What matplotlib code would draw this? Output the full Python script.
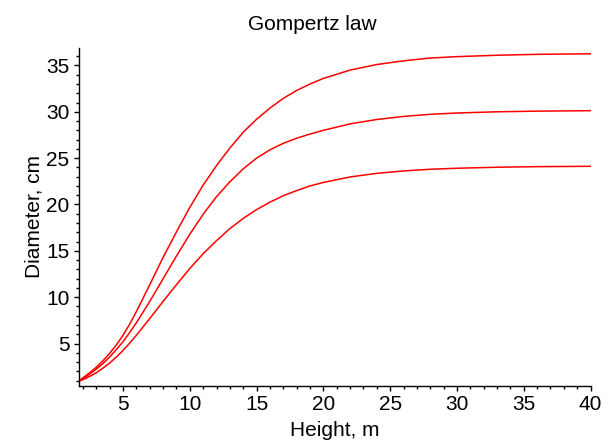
import numpy as np
import matplotlib
matplotlib.use("Agg")
import matplotlib.pyplot as plt
from matplotlib.ticker import MultipleLocator

# ---------------- DATA ----------------
height = [1.7, 2, 2.5, 3, 3.5, 4, 4.5, 5, 5.5, 6, 7, 8, 9, 10, 11, 12, 13,
          14, 15, 16, 17, 18, 19, 20, 22, 24, 26, 28, 30, 33, 36, 40]

diam_top = [1.0, 1.3, 1.85, 2.45, 3.15, 3.95, 4.85, 5.9, 7.1, 8.45, 11.35, 14.3,
            17.05, 19.7, 22.1, 24.2, 26.1, 27.8, 29.2, 30.4, 31.45, 32.3, 33.0,
            33.6, 34.5, 35.1, 35.5, 35.8, 35.95, 36.1, 36.2, 36.26]
diam_mid = [1.0, 1.2, 1.7, 2.25, 2.85, 3.55, 4.35, 5.2, 6.2, 7.25, 9.55, 12.0,
            14.45, 16.8, 18.95, 20.85, 22.45, 23.85, 25.0, 25.9, 26.6, 27.15,
            27.6, 28.0, 28.7, 29.17, 29.5, 29.73, 29.87, 30.0, 30.07, 30.12]
diam_low = [0.95, 1.1, 1.45, 1.85, 2.35, 2.9, 3.55, 4.25, 5.05, 5.9, 7.7, 9.55,
            11.35, 13.1, 14.7, 16.1, 17.4, 18.5, 19.45, 20.25, 20.95, 21.5,
            22.0, 22.38, 22.97, 23.36, 23.62, 23.8, 23.91, 24.02, 24.08, 24.12]

curves = [diam_top, diam_mid, diam_low]

# ---------------- PLOT ----------------
plt.rcParams['font.family'] = ['Liberation Sans', 'DejaVu Sans']

fig = plt.figure(figsize=(6.15, 4.43), dpi=100)
ax = fig.add_axes([79 / 615, 1 - 385.7 / 443, (590.5 - 79) / 615, (385.7 - 48.3) / 443])

for d in curves:
    ax.plot(height, d, color='#ff0000', lw=1.1)

ax.set_xlim(1.7, 40)
ax.set_ylim(0.45, 36.85)

for side in ['top', 'right']:
    ax.spines[side].set_visible(False)
for side in ['left', 'bottom']:
    ax.spines[side].set_linewidth(1.0)

ax.xaxis.set_major_locator(MultipleLocator(5))
ax.xaxis.set_minor_locator(MultipleLocator(1))
ax.yaxis.set_major_locator(MultipleLocator(5))
ax.yaxis.set_minor_locator(MultipleLocator(1))
ax.tick_params(which='major', length=3.8, width=1.0, labelsize=15, pad=3)
ax.tick_params(which='minor', length=2.2, width=1.0)

ax.set_xlabel('Height, m', fontsize=15, labelpad=5)
ax.set_ylabel('Diameter, cm', fontsize=15, labelpad=2)
fig.text(312.5 / 615, 1 - 24 / 443, 'Gompertz law', fontsize=15,
         ha='center', va='center')

fig.savefig('out.png', dpi=100)
